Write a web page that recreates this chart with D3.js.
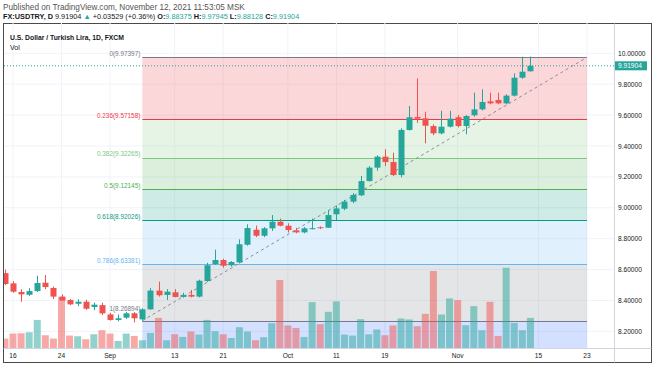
<!DOCTYPE html>
<html><head><meta charset="utf-8">
<script src="https://cdn.jsdelivr.net/npm/d3@7"></script>
<style>
body{margin:0;background:#fff}
svg{display:block}
text{font-family:"Liberation Sans",Arial,sans-serif}
</style>
</head><body>
<script>
// ---------- DATA ----------
const firstDay = "2021-08-13";
const open  = [8.577,8.511,8.455,8.437,8.461,8.515,8.481,8.425,8.403,8.379,8.392,8.358,8.370,8.310,8.274,8.289,8.317,8.278,8.343,8.464,8.436,8.453,8.423,8.436,8.425,8.526,8.636,8.662,8.628,8.647,8.761,8.858,8.819,8.867,8.910,8.884,8.854,8.841,8.864,8.874,8.871,8.958,8.994,9.040,9.081,9.173,9.260,9.331,9.296,9.212,9.504,9.588,9.579,9.529,9.482,9.525,9.586,9.529,9.599,9.637,9.689,9.698,9.676,9.726,9.842,9.88375];
const high  = [8.600,8.525,8.473,8.480,8.561,8.565,8.490,8.440,8.410,8.408,8.405,8.386,8.386,8.320,8.310,8.325,8.325,8.350,8.480,8.522,8.473,8.473,8.450,8.468,8.535,8.644,8.729,8.670,8.655,8.796,8.893,8.885,8.875,8.953,8.930,8.900,8.870,8.875,8.930,8.880,8.986,9.015,9.050,9.095,9.206,9.270,9.340,9.379,9.357,9.515,9.659,9.838,9.622,9.540,9.628,9.628,9.600,9.600,9.745,9.767,9.745,9.745,9.735,9.870,9.978,9.97945];
const low   = [8.500,8.450,8.392,8.430,8.455,8.474,8.410,8.400,8.370,8.364,8.340,8.337,8.306,8.270,8.265,8.280,8.259,8.270,8.340,8.425,8.403,8.420,8.418,8.420,8.420,8.520,8.630,8.612,8.620,8.640,8.755,8.810,8.810,8.850,8.880,8.840,8.835,8.835,8.860,8.862,8.870,8.920,8.985,9.030,9.075,9.170,9.240,9.270,9.205,9.197,9.500,9.550,9.417,9.470,9.475,9.520,9.520,9.476,9.590,9.630,9.670,9.670,9.670,9.720,9.835,9.88128];
const close = [8.507,8.457,8.440,8.461,8.513,8.487,8.425,8.400,8.375,8.392,8.347,8.373,8.317,8.274,8.285,8.317,8.285,8.343,8.464,8.434,8.457,8.423,8.436,8.425,8.528,8.628,8.662,8.625,8.649,8.764,8.869,8.819,8.867,8.910,8.884,8.856,8.841,8.867,8.868,8.869,8.953,8.996,9.040,9.083,9.173,9.260,9.331,9.296,9.212,9.504,9.586,9.577,9.531,9.482,9.525,9.577,9.529,9.594,9.637,9.685,9.676,9.676,9.726,9.842,9.881,9.91904];
const volume = [9400,14400,14700,15700,28000,12700,9400,51000,12400,11700,8700,13700,17700,14400,7000,14400,12000,7700,15000,30000,7700,13700,11000,16400,13400,28000,16700,13700,10000,20700,16400,7700,10700,24700,67700,22400,20000,11000,45700,23700,36000,46400,13400,12400,28700,13700,18400,12700,22400,29400,28400,21700,34000,76700,33400,49400,47700,22700,41700,17700,46000,12000,80000,25000,17700,30000];

const timeTickDates  = ["2021-08-16","2021-08-24","2021-09-01","2021-09-13","2021-09-21","2021-10-01","2021-10-11","2021-10-19","2021-11-01","2021-11-15","2021-11-23"];
const timeTickLabels = ["16","24","Sep","13","21","Oct","11","19","Nov","15","23"];
const priceTicks = [8.2,8.4,8.6,8.8,9.0,9.2,9.4,9.6,9.8,10.0];

const fibRatios = [0,0.236,0.382,0.5,0.618,0.786,1,1.618];
const fibColors = ["#787b86","#f23645","#81c784","#4caf50","#089981","#64b5f6","#787b86","#2962ff"];
const fibHigh = 9.973972, fibLow = 8.268937;
const fibStart = "2021-09-07", fibEnd = "2021-11-23";
const lastPrice = 9.91904;

const headerLine1 = "Published on TradingView.com, November 12, 2021 11:53:05 MSK";
const title = "U.S. Dollar / Turkish Lira, 1D, FXCM";

// ---------- LAYOUT ----------
const W = 654, H = 366;
const plot = {l:4, r:614, t:23, b:348};
const fmt = d3.timeFormat("%Y-%m-%d");
const parse = d3.timeParse("%Y-%m-%d");
const days = d3.timeDay.range(parse(firstDay), parse("2021-11-24")).filter(d => d.getDay() > 0 && d.getDay() < 6);
const idx = new Map(days.map((d,i)=>[fmt(d), i]));

const x = d3.scaleLinear().domain([idx.get("2021-08-16"), idx.get("2021-11-23")]).range([13, 587]);
const y = d3.scaleLinear().domain([8.2, 10.0]).range([331.4, 53.3]);
const vy = d3.scaleLinear().domain([0, 80000]).range([plot.b, plot.b - 80.3]);

const svg = d3.select("body").append("svg").attr("width", W).attr("height", H);
svg.append("rect").attr("width", W).attr("height", H).attr("fill", "#fff");

svg.append("defs").append("clipPath").attr("id","pc").append("rect")
  .attr("x", plot.l).attr("y", plot.t).attr("width", plot.r-plot.l).attr("height", plot.b-plot.t);

// header
const hdr = svg.append("g");
hdr.append("text").attr("x", 3).attr("y", 9.5).attr("font-size", 8.2).attr("fill", "#555").text(headerLine1);
const l2 = hdr.append("text").attr("x", 3).attr("y", 18.5).attr("font-size", 7.3).attr("fill", "#131722");
const teal = "#26a69a";
const parts = [["FX:USDTRY, D ", "#131722", 700], [d3.format(".5f")(lastPrice)+" ", "#131722", 400], ["▲ ", teal, 400],
  ["+0.03529 (+0.36%) ", "#131722", 400], ["O:", "#131722", 700], [d3.format(".5f")(open[open.length-1])+" ", teal, 400],
  ["H:", "#131722", 700], [d3.format(".5f")(high[high.length-1])+" ", teal, 400], ["L:", "#131722", 700],
  [d3.format(".5f")(low[low.length-1])+" ", teal, 400], ["C:", "#131722", 700], [d3.format(".5f")(close[close.length-1]), teal, 400]];
parts.forEach(p => l2.append("tspan").attr("fill", p[1]).attr("font-weight", p[2]).text(p[0]));

// frame
svg.append("rect").attr("x", 3.5).attr("y", 23.5).attr("width", 648).attr("height", 339).attr("fill","none").attr("stroke","#4a4a4a").attr("stroke-width",1);

const g = svg.append("g").attr("clip-path","url(#pc)");

// grid
g.selectAll("line.vg").data(timeTickDates).join("line")
  .attr("x1", d=>x(idx.get(d))).attr("x2", d=>x(idx.get(d))).attr("y1", plot.t).attr("y2", plot.b)
  .attr("stroke", "#f0f3fa").attr("stroke-width", 1);
g.selectAll("line.hg").data(priceTicks).join("line")
  .attr("x1", plot.l).attr("x2", plot.r).attr("y1", d=>y(d)).attr("y2", d=>y(d))
  .attr("stroke", "#f0f3fa").attr("stroke-width", 1);

// fib
const fx0 = x(idx.get(fibStart)), fx1 = x(idx.get(fibEnd));
const fibVal = r => fibHigh - r*(fibHigh - fibLow);
const zones = d3.range(1, fibRatios.length).map(i => ({a: fibRatios[i-1], b: fibRatios[i], c: fibColors[i]}));
g.selectAll("rect.fz").data(zones).join("rect")
  .attr("x", fx0).attr("width", fx1 - fx0)
  .attr("y", d => y(fibVal(d.a))).attr("height", d => y(fibVal(d.b)) - y(fibVal(d.a)))
  .attr("fill", d => d.c).attr("fill-opacity", 0.2);
g.selectAll("line.fl").data(fibRatios).join("line")
  .attr("x1", fx0).attr("x2", fx1).attr("y1", d=>Math.round(y(fibVal(d)))+0.5).attr("y2", d=>Math.round(y(fibVal(d)))+0.5)
  .attr("stroke", (d,i)=>fibColors[i]).attr("stroke-width", 1);
g.selectAll("text.ft").data(fibRatios.slice(0,7)).join("text")
  .attr("x", fx0 - 2).attr("y", (d,i)=> y(fibVal(d)) - (i===6 ? 10 : 1.5))
  .attr("text-anchor","end").attr("font-size", 6.4).attr("fill", (d,i)=>fibColors[i])
  .text(d => `${d}(${d3.format(".5f")(fibVal(d))})`);
// trend line
g.append("line").attr("x1", fx0).attr("y1", y(fibLow)).attr("x2", fx1).attr("y2", y(fibHigh))
  .attr("stroke", "#8a8d96").attr("stroke-width", 1).attr("stroke-dasharray", "3,3");

// last price line
g.append("line").attr("x1", plot.l).attr("x2", plot.r).attr("y1", y(lastPrice)).attr("y2", y(lastPrice))
  .attr("stroke", teal).attr("stroke-width", 1).attr("stroke-dasharray", "1,2");

// volume
const up = close.map((c,i)=> c >= open[i]);
g.selectAll("rect.vol").data(volume).join("rect")
  .attr("x", (d,i)=> x(i) - 3.5).attr("width", 7)
  .attr("y", d => vy(d)).attr("height", d => plot.b - vy(d))
  .attr("fill", (d,i)=> up[i] ? "rgba(38,166,154,0.5)" : "rgba(239,83,80,0.5)");

// candles
const cg = g.selectAll("g.c").data(open).join("g");
cg.append("line").attr("x1",(d,i)=>Math.round(x(i))+0.5).attr("x2",(d,i)=>Math.round(x(i))+0.5)
  .attr("y1",(d,i)=>y(high[i])).attr("y2",(d,i)=>y(low[i]))
  .attr("stroke",(d,i)=> up[i] ? teal : "#ef5350").attr("stroke-width",1);
cg.append("rect").attr("x",(d,i)=>Math.round(x(i))-2.5).attr("width",6)
  .attr("y",(d,i)=>y(Math.max(open[i],close[i])))
  .attr("height",(d,i)=>Math.max(1, Math.abs(y(open[i])-y(close[i]))))
  .attr("fill",(d,i)=> up[i] ? teal : "#ef5350");

// title
svg.append("text").attr("x", 10).attr("y", 40).attr("font-size", 6.8).attr("font-weight", 700).attr("fill", "#131722").text(title);
svg.append("text").attr("x", 10).attr("y", 50).attr("font-size", 7).attr("fill", "#131722").text("Vol");

// price axis
svg.append("line").attr("x1", plot.r+0.5).attr("x2", plot.r+0.5).attr("y1", 23.5).attr("y2", 362.5).attr("stroke", "#d1d4dc");
svg.selectAll("text.pt").data(priceTicks).join("text")
  .attr("x", 618).attr("y", d=>y(d)+2.5).attr("font-size", 6.6).attr("fill", "#131722")
  .text(d => d3.format(".5f")(d));
// last price label
svg.append("rect").attr("x", plot.r+1).attr("y", y(lastPrice)-4.5).attr("width", 32).attr("height", 9).attr("fill", teal);
svg.append("text").attr("x", 618).attr("y", y(lastPrice)+2.4).attr("font-size", 6.6).attr("fill", "#fff").text(d3.format(".5f")(lastPrice));

// time axis
svg.append("line").attr("x1", 3.5).attr("x2", 651.5).attr("y1", plot.b+0.5).attr("y2", plot.b+0.5).attr("stroke", "#d1d4dc");
svg.selectAll("text.tt").data(timeTickDates).join("text")
  .attr("x", d=>x(idx.get(d))).attr("y", 358).attr("text-anchor","middle").attr("font-size", 6.6).attr("fill", "#131722")
  .text((d,i)=>timeTickLabels[i]);
</script>
</body></html>
